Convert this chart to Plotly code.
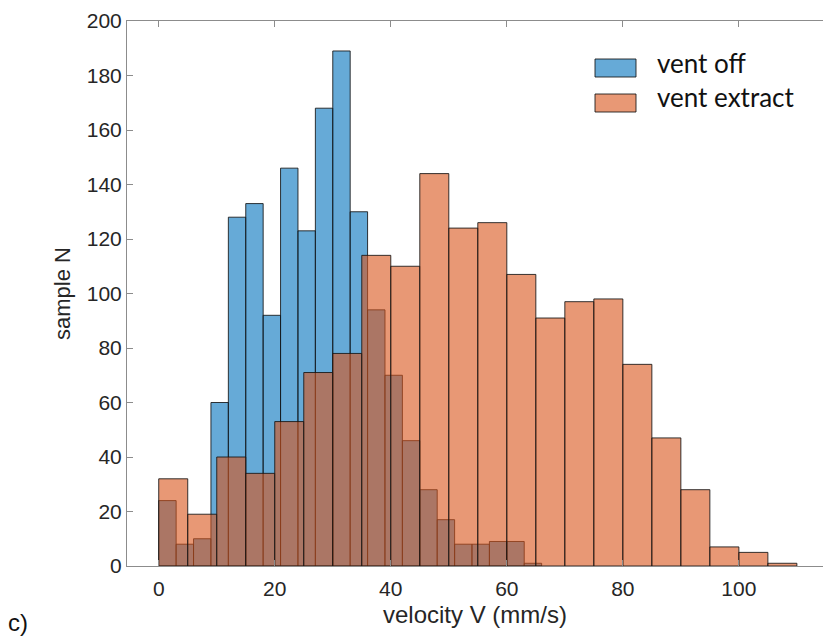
import plotly.graph_objects as go
import numpy as np

# ---- data ----
blue_name = "vent off"
orange_name = "vent extract"
blue_bin_width = 3
blue_start = 0
blue_counts = [24, 8, 10, 60, 128, 133, 92, 146, 123, 168, 189, 130,
               94, 70, 46, 28, 17, 8, 8, 9, 9, 1]
orange_bin_width = 5
orange_start = 0
orange_counts = [32, 19, 40, 34, 53, 71, 78, 114, 110, 144, 124, 126,
                 107, 91, 97, 98, 74, 47, 28, 7, 5, 1]
x_ticks = [0, 20, 40, 60, 80, 100]
y_ticks = list(range(0, 201, 20))

blue_left = blue_start + blue_bin_width * np.arange(len(blue_counts))
orange_left = orange_start + orange_bin_width * np.arange(len(orange_counts))

# ---- layout geometry (pixels) ----
W, H = 823, 637
L, R, T, B = 127, 0, 21, 71
pw, ph = W - L - R, H - T - B


def px(xp):
    return (xp - L) / pw


def py(yp):
    return (H - B - yp) / ph


BLUE = "rgba(0,114,189,0.6)"
ORANGE = "rgba(217,83,25,0.6)"
EDGE = "rgba(20,20,20,0.85)"
AX = "#8c8c8c"
TXT = "#262626"

fig = go.Figure()
fig.add_trace(go.Bar(x=blue_left, y=blue_counts, width=blue_bin_width, offset=0,
                     marker=dict(color=BLUE, line=dict(color=EDGE, width=1)),
                     name=blue_name, showlegend=False))
fig.add_trace(go.Bar(x=orange_left, y=orange_counts, width=orange_bin_width, offset=0,
                     marker=dict(color=ORANGE, line=dict(color=EDGE, width=1)),
                     name=orange_name, showlegend=False))

font_ax = "Liberation Sans, Arial, sans-serif"

fig.update_layout(
    width=W, height=H,
    margin=dict(l=L, r=R, t=T, b=B, pad=0, autoexpand=False),
    barmode="overlay",
    plot_bgcolor="white", paper_bgcolor="white",
    font=dict(family=font_ax, color=TXT, size=21),
    xaxis=dict(range=[-5.47, 114.5], tickvals=x_ticks, ticks="inside", ticklen=6,
               tickcolor=AX, showline=True, linecolor=AX, linewidth=1, mirror="ticks",
               showgrid=False, zeroline=False, automargin=False,
               tickfont=dict(size=21, color=TXT), ticklabelstandoff=4,
               title=dict(text="velocity V (mm/s)", font=dict(size=24, color=TXT), standoff=6)),
    yaxis=dict(range=[0, 200], tickvals=y_ticks, ticks="inside", ticklen=6,
               tickcolor=AX, showline=True, linecolor=AX, linewidth=1, mirror=False,
               showgrid=False, zeroline=False, automargin=False,
               tickfont=dict(size=21, color=TXT),
               title=dict(text="sample N", font=dict(size=22, color=TXT), standoff=10)),
)

# ---- legend (drawn) ----
leg_font = dict(family="Lato, Open Sans, sans-serif", size=26, color="#111111")
items = [(blue_name, BLUE, 59, 77, 63), (orange_name, ORANGE, 94, 112, 97)]
for name, col, y0, y1, yc in items:
    fig.add_shape(type="rect", xref="paper", yref="paper",
                  x0=px(595), x1=px(636), y0=py(y1), y1=py(y0),
                  fillcolor=col, line=dict(color=EDGE, width=1))
    fig.add_annotation(text=name, xref="paper", yref="paper", x=px(655), y=py(yc),
                       xanchor="left", yanchor="middle", showarrow=False, font=leg_font)

# panel label
fig.add_annotation(text="c)", xref="paper", yref="paper", x=px(6), y=py(638),
                   xanchor="left", yanchor="bottom", showarrow=False,
                   font=dict(family=font_ax, size=24, color="#111111"))

fig.write_html("out.html", config={"displayModeBar": False},
               post_script="document.body.style.margin='0';document.body.style.overflow='hidden';")
